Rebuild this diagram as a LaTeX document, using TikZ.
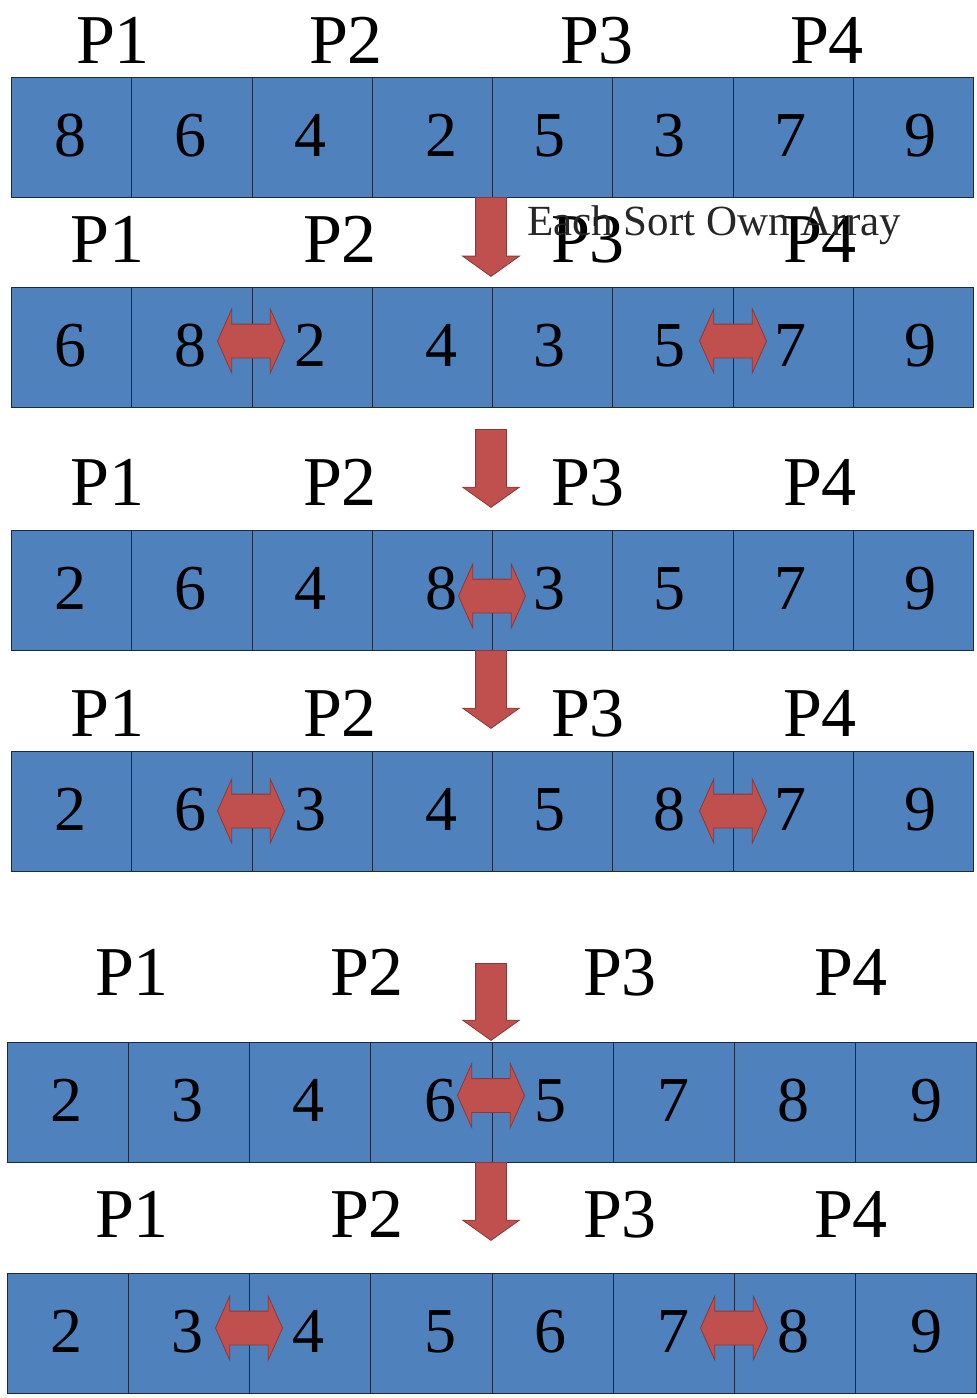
\documentclass[tikz,border=0pt]{standalone}
\usepackage{fontspec}
\setmainfont{Liberation Serif}
\usetikzlibrary{shapes.arrows}

\definecolor{cellfill}{HTML}{4F81BD}
\definecolor{celledge}{HTML}{1C2A3F}
\definecolor{arrowfill}{HTML}{C0504D}
\definecolor{arrowedge}{HTML}{8C3836}

\tikzset{
  cellbox/.style={rectangle, fill=cellfill, draw=celledge, line width=1pt,
    inner sep=0pt, minimum height=120pt, anchor=north west},
  digit/.style={font=\fontsize{64}{64}\selectfont, anchor=base, inner sep=0pt},
  plabel/.style={font=\fontsize{70}{70}\selectfont, anchor=base, inner sep=0pt},
  note/.style={font=\fontsize{43}{43}\selectfont, anchor=base west, inner sep=0pt, text=black!85},
  downarrow/.style={single arrow, rotate=-90, anchor=tail, fill=arrowfill, draw=arrowedge,
    line width=0.8pt, inner xsep=0pt, inner ysep=15pt,
    single arrow head extend=13pt, single arrow tip angle=109},
  swaparrow/.style={double arrow, fill=arrowfill, draw=arrowedge,
    line width=0.8pt, inner xsep=0pt, inner ysep=16.5pt, minimum height=67pt,
    double arrow head extend=15pt, double arrow tip angle=132},
}

% one row of eight cells: name, top, left, cell width, digit/x list
\newcommand\cellrow[5]{%
  \foreach \v/\dx [count=\i] in {#5} {
    \node[cellbox, minimum width=#4pt] (#1c\i) at ({#3+(\i-1)*#4}, #2) {};
    \node[digit] (#1d\i) at (\dx, #2+79) {\v};
  }}
% the four processor labels above a row: name, baseline, x positions
\newcommand\plabels[6]{%
  \node[plabel] (#1p1) at (#3, #2) {P1};
  \node[plabel] (#1p2) at (#4, #2) {P2};
  \node[plabel] (#1p3) at (#5, #2) {P3};
  \node[plabel] (#1p4) at (#6, #2) {P4};}

\begin{document}
\begin{tikzpicture}[x=1pt, y=-1pt]
\useasboundingbox (0,0) rectangle (977,1398);

% processor labels
\plabels{ra}{63}{113}{346}{597}{827}
\plabels{rb}{262}{107.5}{340}{588}{820}
\plabels{rc}{505}{107.5}{340}{588}{820}
\plabels{rd}{736}{107.5}{340}{588}{820}
\plabels{re}{995}{132}{367}{620}{851}
\plabels{rf}{1237}{132}{367}{620}{851}

\node[note] (note) at (527, 235) {Each Sort Own Array};

% the array after each step
\cellrow{ra}{77}{11}{120.25}{8/70,6/190,4/310,2/441,5/549,3/669,7/790,9/920}
\cellrow{rb}{287}{11}{120.25}{6/70,8/190,2/310,4/441,3/549,5/669,7/790,9/920}
\cellrow{rc}{530}{11}{120.25}{2/70,6/190,4/310,8/441,3/549,5/669,7/790,9/920}
\cellrow{rd}{751}{11}{120.25}{2/70,6/190,3/310,4/441,5/549,8/669,7/790,9/920}
\cellrow{re}{1042}{7}{121.125}{2/66,3/187,4/308,6/440,5/550,7/673,8/793,9/926}
\cellrow{rf}{1273}{7}{121.125}{2/66,3/187,4/308,5/440,6/550,7/673,8/793,9/926}

% steps between rows (each placed by its tail)
\node[downarrow, minimum height=79pt] (s1) at (491, 197) {};
\node[downarrow, minimum height=78pt] (s2) at (491, 429) {};
\node[downarrow, minimum height=78pt] (s3) at (491, 650) {};
\node[downarrow, minimum height=77pt] (s4) at (491, 963) {};
\node[downarrow, minimum height=78pt] (s5) at (491, 1162) {};

% compare-exchange across block borders
\node[swaparrow] (x1) at (251, 341) {};
\node[swaparrow] (x2) at (733, 341) {};
\node[swaparrow] (x3) at (492, 596) {};
\node[swaparrow] (x4) at (251, 811) {};
\node[swaparrow] (x5) at (733, 811) {};
\node[swaparrow] (x6) at (491, 1095.5) {};
\node[swaparrow] (x7) at (249, 1328) {};
\node[swaparrow] (x8) at (734, 1328) {};
\end{tikzpicture}
\end{document}
